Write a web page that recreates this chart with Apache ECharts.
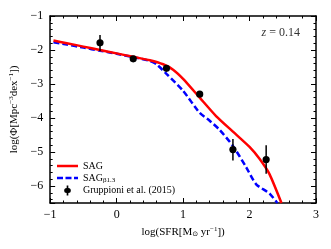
<!DOCTYPE html>
<html><head><meta charset="utf-8">
<script src="https://cdn.jsdelivr.net/npm/echarts@6/dist/echarts.min.js"></script>
<style>html,body{margin:0;padding:0;background:#fff}#c{width:331px;height:249px}</style>
</head><body><div id="c"></div>
<script>
const sagX = [-0.95, -0.75, -0.5, -0.25, 0, 0.25, 0.5, 0.7, 0.85, 1.0, 1.25, 1.5, 1.75, 2.0, 2.15, 2.3, 2.48];
const sagY = [-1.72, -1.80, -1.90, -2.00, -2.10, -2.20, -2.30, -2.42, -2.58, -2.85, -3.40, -3.95, -4.40, -4.85, -5.20, -5.65, -6.50];
const betaX = [-0.95, -0.75, -0.5, -0.25, 0, 0.25, 0.5, 0.6, 0.75, 1.0, 1.25, 1.4, 1.55, 1.75, 1.95, 2.1, 2.3, 2.42];
const betaY = [-1.77, -1.84, -1.93, -2.02, -2.11, -2.21, -2.32, -2.42, -2.70, -3.20, -3.85, -4.08, -4.35, -4.82, -5.45, -5.95, -6.22, -6.50];
const obsX = [-0.25, 0.25, 0.75, 1.25, 1.75, 2.25];
const obsY = [-1.79, -2.26, -2.54, -3.30, -4.93, -5.22];
const obsLo = [-2.03, -2.31, -2.59, -3.36, -5.25, -5.64];
const obsHi = [-1.56, -2.21, -2.49, -3.24, -4.62, -4.80];
const xTicks = [-1, 0, 1, 2, 3];
const yTicks = [-1, -2, -3, -4, -5, -6];

const font = 'Liberation Serif';
const minus = v => String(v).replace('-', '\u2212');
const chart = echarts.init(document.getElementById('c'), null, {renderer: 'canvas'});
const lineAx = {show: true, onZero: false, lineStyle: {color: '#000', width: 1.5}};
const tickIn = {show: true, inside: true, length: 5, lineStyle: {color: '#000', width: 1}};
const minorIn = {show: true, splitNumber: 5, length: 2.5, lineStyle: {color: '#000', width: 1}};
function xAx(pos, labels) {
  return {type: 'value', position: pos, min: xTicks[0], max: xTicks[xTicks.length - 1], interval: 1,
    axisLine: lineAx, axisTick: tickIn, minorTick: minorIn, splitLine: {show: false},
    axisLabel: {show: labels, margin: 6, color: '#000', fontFamily: font, fontSize: 12, formatter: minus},
    name: labels ? '{n|log(SFR[M}{sub|\u2299}{n| yr}{sup|\u22121}{n|])}' : '', nameLocation: 'middle', nameGap: 20,
    nameTextStyle: {color: '#000', fontFamily: font, fontSize: 11,
      rich: {n: {fontFamily: font, fontSize: 11, color: '#000'},
             sub: {fontFamily: 'DejaVu Sans', fontSize: 7, color: '#000', verticalAlign: 'bottom', padding: [4, 0, 0, 0]},
             sup: {fontFamily: font, fontSize: 7, color: '#000', verticalAlign: 'top', padding: [0, 0, 5, 0]}}}};
}
function yAx(pos, labels) {
  return {type: 'value', position: pos, min: -6.5, max: -1, minInterval: 1, maxInterval: 1,
    axisLine: lineAx, axisTick: tickIn, minorTick: minorIn, splitLine: {show: false},
    axisLabel: {show: labels, margin: 7, color: '#000', fontFamily: font, fontSize: 12,
      formatter: v => yTicks.includes(v) ? minus(v) : ''},
    name: labels ? '{n|log(\u03a6[Mpc}{sup|\u22123}{n|dex}{sup|\u22121}{n|])}' : '', nameLocation: 'middle', nameGap: 22,
    nameTextStyle: {color: '#000', fontFamily: font, fontSize: 11,
      rich: {n: {fontFamily: font, fontSize: 11, color: '#000'},
             sup: {fontFamily: font, fontSize: 7, color: '#000', verticalAlign: 'top', padding: [0, 0, 5, 0]}}}};
}
const zip = (a, b) => a.map((v, i) => [v, b[i]]);
chart.setOption({
  animation: false,
  grid: {left: 50, right: 15, top: 16, bottom: 46, containLabel: false},
  xAxis: [xAx('bottom', true), xAx('top', false)],
  yAxis: [yAx('left', true), yAx('right', false)],
  legend: {
    orient: 'vertical', left: 52, top: 156, itemGap: 2, itemWidth: 21, itemHeight: 10, symbolKeepAspect: true,
    textStyle: {fontFamily: font, fontSize: 10, color: '#000',
      rich: {n: {fontFamily: font, fontSize: 10, color: '#000'},
             sub: {fontFamily: font, fontSize: 7, color: '#000', verticalAlign: 'bottom', padding: [4, 0, 0, 0]}}},
    formatter: name => name === 'SAGb' ? '{n|SAG}{sub|\u03b21.3}' : name,
    data: [
      {name: 'SAG', icon: 'path://M0,0h21v2.5h-21z', itemStyle: {color: '#ff0000'}},
      {name: 'SAGb', icon: 'path://M0,0h6v2.5h-6z M8.5,0h6v2.5h-6z M17,0h4v2.5h-4z', itemStyle: {color: '#0000ff'}},
      {name: 'Gruppioni et al. (2015)', icon: 'path://M4,0 L6,0 L6,3 A3,3 0 0 1 6,9 L6,12 L4,12 L4,9 A3,3 0 0 1 4,3 Z', itemStyle: {color: '#000'}}
    ]
  },
  graphic: [{type: 'text', right: 31, top: 27, style: {text: '{i|z} = 0.14', fontFamily: font, fontSize: 12, fill: '#333',
    rich: {i: {fontFamily: font, fontStyle: 'italic', fontSize: 12, color: '#333'}}}}],
  series: [
    {name: 'SAG', type: 'line', data: zip(sagX, sagY), symbol: 'none', smooth: 0.2,
     lineStyle: {color: '#ff0000', width: 2.5}, itemStyle: {color: '#ff0000'}, clip: true, z: 3},
    {name: 'SAGb', type: 'line', data: zip(betaX, betaY), symbol: 'none', smooth: 0.2,
     lineStyle: {color: '#0000ff', width: 2.5, type: [6, 3]}, itemStyle: {color: '#0000ff'}, clip: true, z: 2},
    {name: 'Gruppioni et al. (2015)', type: 'custom', z: 4,
     data: obsX.map((x, i) => [x, obsY[i], obsLo[i], obsHi[i]]),
     renderItem: (params, api) => {
       const c = api.coord([api.value(0), api.value(1)]);
       const lo = api.coord([api.value(0), api.value(2)]);
       const hi = api.coord([api.value(0), api.value(3)]);
       return {type: 'group', children: [
         {type: 'line', shape: {x1: lo[0], y1: lo[1], x2: hi[0], y2: hi[1]}, style: {stroke: '#000', lineWidth: 1.5}},
         {type: 'circle', shape: {cx: c[0], cy: c[1], r: 3.6}, style: {fill: '#000'}}
       ]};
     },
     itemStyle: {color: '#000'}}
  ]
});
</script></body></html>
